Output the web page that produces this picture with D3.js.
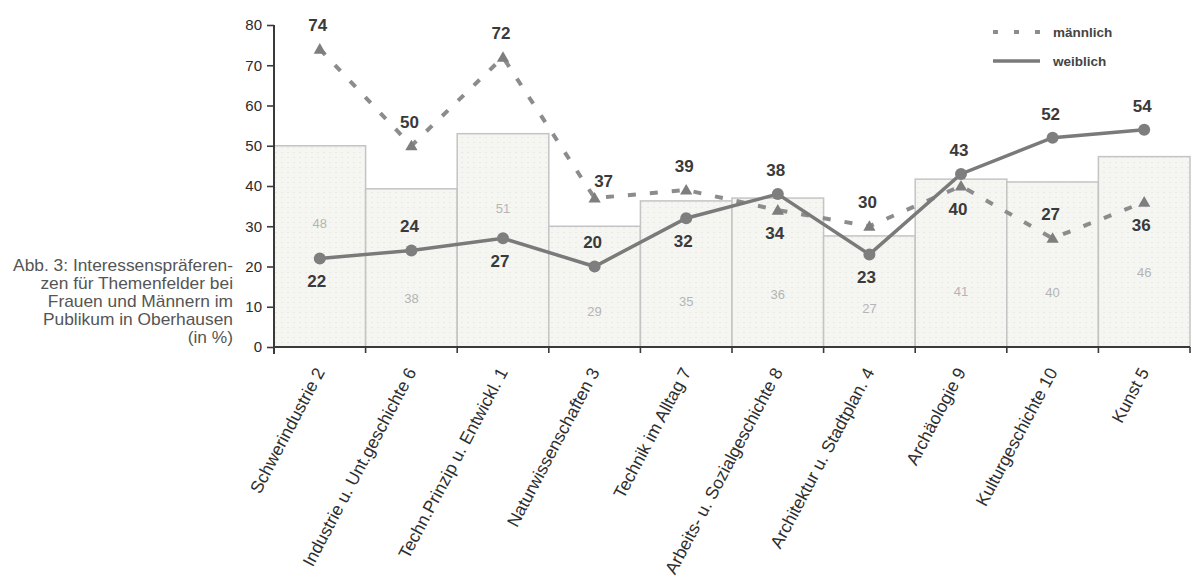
<!DOCTYPE html>
<html>
<head>
<meta charset="utf-8">
<script src="https://cdn.jsdelivr.net/npm/d3@7"></script>
<style>
  body { margin: 0; background: #fff; }
  svg text { font-family: "Liberation Sans", Arial, sans-serif; }
</style>
</head>
<body>
<svg id="chart"></svg>
<script>
var categories = ["Schwerindustrie 2", "Industrie u. Unt.geschichte 6", "Techn.Prinzip u. Entwickl. 1",
  "Naturwissenschaften 3", "Technik im Alltag 7", "Arbeits- u. Sozialgeschichte 8",
  "Architektur u. Stadtplan. 4", "Archäologie 9", "Kulturgeschichte 10", "Kunst 5"];
var maennlich = [74, 50, 72, 37, 39, 34, 30, 40, 27, 36];
var weiblich = [22, 24, 27, 20, 32, 38, 23, 43, 52, 54];
// bars as drawn in the picture, and the faint numbers printed inside them
var barHeights = [50, 39.3, 53, 30, 36.3, 37, 27.6, 41.7, 41, 47.3];
var barLabels = [48, 38, 51, 29, 35, 36, 27, 41, 40, 46];
var barLabelAt = [30.8, 12, 34.5, 8.8, 11.2, 13, 9.5, 13.7, 13.5, 18.5];
var mPlace = ["up", "up", "up", "upright", "up", "down", "up", "down", "up", "down"];
var wPlace = ["down", "up", "down", "up", "down", "up", "down", "up", "up", "up"];
var yTicks = [0, 10, 20, 30, 40, 50, 60, 70, 80];
var caption = ["Abb. 3: Interessenspräferen-", "zen für Themenfelder bei", "Frauen und Männern im",
  "Publikum in Oberhausen", "(in %)"];

var W = 1193, H = 588;
var margin = { top: 25, left: 274, right: 3, bottom: 241 },
  width = W - margin.left - margin.right,
  height = H - margin.top - margin.bottom;

var svg = d3.select("#chart").attr("width", W).attr("height", H);

var defs = svg.append("defs");
var pat = defs.append("pattern").attr("id", "stipple")
  .attr("width", 6).attr("height", 5).attr("patternUnits", "userSpaceOnUse");
pat.append("rect").attr("width", 6).attr("height", 5).attr("fill", "#f5f6f2");
pat.append("rect").attr("x", 1).attr("y", 2).attr("width", 2).attr("height", 1).attr("fill", "#e8eae4");

var g = svg.append("g").attr("transform", "translate(" + margin.left + "," + margin.top + ")");

var x = d3.scaleBand().domain(categories).range([0, width]);
var y = d3.scaleLinear().domain([0, 80]).range([height, 0]);

// bars
g.append("g").selectAll("rect")
    .data(categories)
  .enter().append("rect")
    .attr("x", function(d) { return x(d); })
    .attr("y", function(d, i) { return y(barHeights[i]); })
    .attr("width", x.bandwidth())
    .attr("height", function(d, i) { return y(0) - y(barHeights[i]); })
    .attr("fill", "url(#stipple)")
    .attr("stroke", "#c4c4c4")
    .attr("stroke-width", 1.5);

g.append("g").selectAll("text")
    .data(categories)
  .enter().append("text")
    .attr("x", function(d) { return x(d) + x.bandwidth() / 2; })
    .attr("y", function(d, i) { return y(barLabelAt[i]); })
    .attr("dy", "0.35em")
    .attr("text-anchor", "middle")
    .attr("font-size", 13)
    .attr("fill", "#b4b4b4")
    .text(function(d, i) { return barLabels[i]; });

// axes
var yAxis = d3.axisLeft(y).tickValues(yTicks).tickSize(7).tickPadding(5);
var xAxis = d3.axisBottom(x).tickSize(0).tickFormat("");

var ya = g.append("g").call(yAxis);
ya.select(".domain").attr("stroke", "#3a3a3a").attr("stroke-width", 2).attr("d", "M0," + (height + 7) + "V0");
ya.selectAll(".tick line").attr("stroke", "#3a3a3a").attr("stroke-width", 1.6);
ya.selectAll(".tick text").attr("font-size", 15).attr("fill", "#2a2a2a");

var xa = g.append("g").attr("transform", "translate(0," + height + ")").call(xAxis);
xa.select(".domain").attr("stroke", "#3a3a3a").attr("stroke-width", 2).attr("d", "M0,0H" + width);

g.append("g").selectAll("line")
    .data(categories)
  .enter().append("line")
    .attr("x1", function(d) { return x(d) + x.bandwidth(); })
    .attr("x2", function(d) { return x(d) + x.bandwidth(); })
    .attr("y1", height).attr("y2", height + 6)
    .attr("stroke", "#3a3a3a").attr("stroke-width", 1.6);

g.append("g").selectAll("text")
    .data(categories)
  .enter().append("text")
    .attr("transform", function(d) {
      return "translate(" + (x(d) + x.bandwidth() / 2) + "," + (height + 22) + ") rotate(-62)";
    })
    .attr("text-anchor", "end")
    .attr("dy", "0.35em")
    .attr("font-size", 17.5)
    .attr("fill", "#2e2e2e")
    .text(function(d) { return d; });

var cx = function(d, i) { return x(categories[i]) + x.bandwidth() / 2; };

// männlich
var lineM = d3.line().x(cx).y(function(d) { return y(d); });
g.append("path").datum(maennlich)
  .attr("d", lineM)
  .attr("fill", "none")
  .attr("stroke", "#8c8c8c")
  .attr("stroke-width", 4)
  .attr("stroke-dasharray", "8,14");

g.append("g").selectAll("path")
    .data(maennlich)
  .enter().append("path")
    .attr("d", d3.symbol().type(d3.symbolTriangle).size(65))
    .attr("transform", function(d, i) { return "translate(" + cx(d, i) + "," + (y(d) + 1) + ")"; })
    .attr("fill", "#7e7e7e");

// weiblich
var lineW = d3.line().x(cx).y(function(d) { return y(d); });
g.append("path").datum(weiblich)
  .attr("d", lineW)
  .attr("fill", "none")
  .attr("stroke", "#7a7a7a")
  .attr("stroke-width", 3.5);

g.append("g").selectAll("circle")
    .data(weiblich)
  .enter().append("circle")
    .attr("cx", cx)
    .attr("cy", function(d) { return y(d); })
    .attr("r", 6)
    .attr("fill", "#7e7e7e");

function labelOffset(p) {
  if (p == "up") return [-2, -24];
  if (p == "upright") return [9, -17];
  return [-3, 23];
}

g.append("g").selectAll("text")
    .data(maennlich)
  .enter().append("text")
    .attr("x", function(d, i) { return cx(d, i) + labelOffset(mPlace[i])[0]; })
    .attr("y", function(d, i) { return y(d) + labelOffset(mPlace[i])[1]; })
    .attr("dy", "0.35em")
    .attr("text-anchor", "middle")
    .attr("font-size", 17)
    .attr("font-weight", "bold")
    .attr("fill", "#3a3a3a")
    .text(function(d) { return d; });

g.append("g").selectAll("text")
    .data(weiblich)
  .enter().append("text")
    .attr("x", function(d, i) { return cx(d, i) + labelOffset(wPlace[i])[0]; })
    .attr("y", function(d, i) { return y(d) + labelOffset(wPlace[i])[1]; })
    .attr("dy", "0.35em")
    .attr("text-anchor", "middle")
    .attr("font-size", 17)
    .attr("font-weight", "bold")
    .attr("fill", "#3a3a3a")
    .text(function(d) { return d; });

// legend
var legend = svg.append("g").attr("transform", "translate(993,32)");
legend.append("line").attr("x1", 0).attr("x2", 47).attr("y1", 0).attr("y2", 0)
  .attr("stroke", "#8c8c8c").attr("stroke-width", 4).attr("stroke-dasharray", "5,16");
legend.append("text").attr("x", 60).attr("y", 0).attr("dy", "0.35em")
  .attr("font-size", 13.5).attr("font-weight", "bold").attr("fill", "#444").text("männlich");
legend.append("line").attr("x1", 0).attr("x2", 47).attr("y1", 29).attr("y2", 29)
  .attr("stroke", "#7a7a7a").attr("stroke-width", 3.5);
legend.append("text").attr("x", 60).attr("y", 29).attr("dy", "0.35em")
  .attr("font-size", 13.5).attr("font-weight", "bold").attr("fill", "#444").text("weiblich");

// caption, stretched to the width of the printed block
var cap = svg.append("g");
var capLines = cap.selectAll("text")
    .data(caption)
  .enter().append("text")
    .attr("x", 0)
    .attr("y", function(d, i) { return 265 + i * 18; })
    .attr("dy", "0.35em")
    .attr("text-anchor", "end")
    .attr("font-size", 16)
    .attr("fill", "#555")
    .text(function(d) { return d; });
var firstLen = capLines.node().getComputedTextLength();
var sx = 220 / firstLen;
cap.attr("transform", "translate(233,0) scale(" + sx + ",1)");
</script>
</body>
</html>
